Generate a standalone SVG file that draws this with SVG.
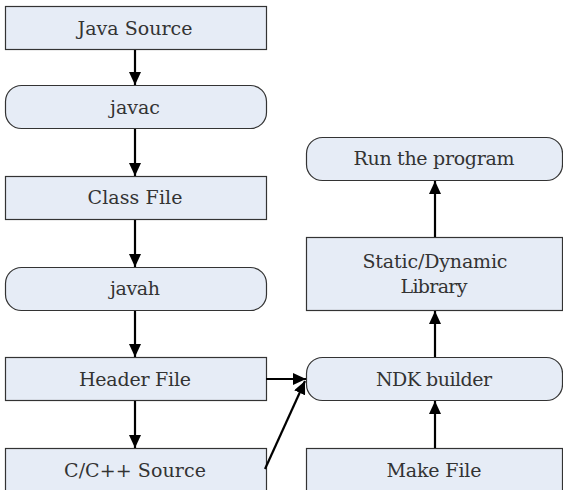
<svg xmlns="http://www.w3.org/2000/svg" width="563" height="490" viewBox="0 0 563 490">
<style>
.box{fill:#e6ecf6;stroke:#333;stroke-width:1.2}
.t{font-family:'DejaVu Serif','Liberation Serif',serif;font-size:19px;fill:#333;text-anchor:middle}
.c{stroke:#000;stroke-width:2.2;fill:none;marker-end:url(#ah)}
</style>
<defs>
<marker id="ah" markerUnits="userSpaceOnUse" markerWidth="13" markerHeight="12" refX="13" refY="6" orient="auto">
<path d="M0,0 L13,6 L0,12 Z" fill="#000"/>
</marker>
</defs>
<rect width="563" height="490" fill="#fff"/>
<g id="java-source"><rect class="box" x="5.5" y="6.5" width="261" height="43"/><text class="t" x="135" y="35" textLength="115" lengthAdjust="spacing">Java Source</text></g>
<g id="javac"><rect class="box" x="5.5" y="85.5" width="261" height="43" rx="16"/><text class="t" x="135" y="114" textLength="50" lengthAdjust="spacing">javac</text></g>
<g id="class-file"><rect class="box" x="5.5" y="176.5" width="261" height="43"/><text class="t" x="135" y="204" textLength="95" lengthAdjust="spacing">Class File</text></g>
<g id="javah"><rect class="box" x="5.5" y="267.5" width="261" height="43" rx="16"/><text class="t" x="135" y="295" textLength="50" lengthAdjust="spacing">javah</text></g>
<g id="header-file"><rect class="box" x="5.5" y="357.5" width="261" height="43"/><text class="t" x="135" y="386" textLength="112" lengthAdjust="spacing">Header File</text></g>
<g id="cpp-source"><rect class="box" x="5.5" y="448.5" width="261" height="50"/><text class="t" x="135" y="477" textLength="142" lengthAdjust="spacing">C/C++ Source</text></g>
<g id="run-program"><rect class="box" x="306.5" y="137.5" width="256" height="43" rx="16"/><text class="t" x="434" y="165" textLength="161" lengthAdjust="spacing">Run the program</text></g>
<g id="library"><rect class="box" x="306.5" y="237.5" width="256" height="73"/><text class="t" x="435" y="268" textLength="145" lengthAdjust="spacing">Static/Dynamic</text><text class="t" x="434" y="293" textLength="67" lengthAdjust="spacing">Library</text></g>
<g id="ndk-builder"><rect class="box" x="306.5" y="357.5" width="256" height="43" rx="16"/><text class="t" x="434" y="386" textLength="116" lengthAdjust="spacing">NDK builder</text></g>
<g id="make-file"><rect class="box" x="306.5" y="448.5" width="256" height="50"/><text class="t" x="434" y="477" textLength="95" lengthAdjust="spacing">Make File</text></g>
<g id="connectors">
<line class="c" x1="135" y1="50" x2="135" y2="85"/>
<line class="c" x1="135" y1="129" x2="135" y2="176"/>
<line class="c" x1="135" y1="220" x2="135" y2="267"/>
<line class="c" x1="135" y1="311" x2="135" y2="357"/>
<line class="c" x1="135" y1="401" x2="135" y2="448"/>
<line class="c" x1="266" y1="379" x2="306" y2="379"/>
<line class="c" x1="265" y1="469" x2="305" y2="381"/>
<line class="c" x1="435" y1="448" x2="435" y2="401"/>
<line class="c" x1="435" y1="357" x2="435" y2="311"/>
<line class="c" x1="435" y1="237" x2="435" y2="181"/>
</g>
</svg>
